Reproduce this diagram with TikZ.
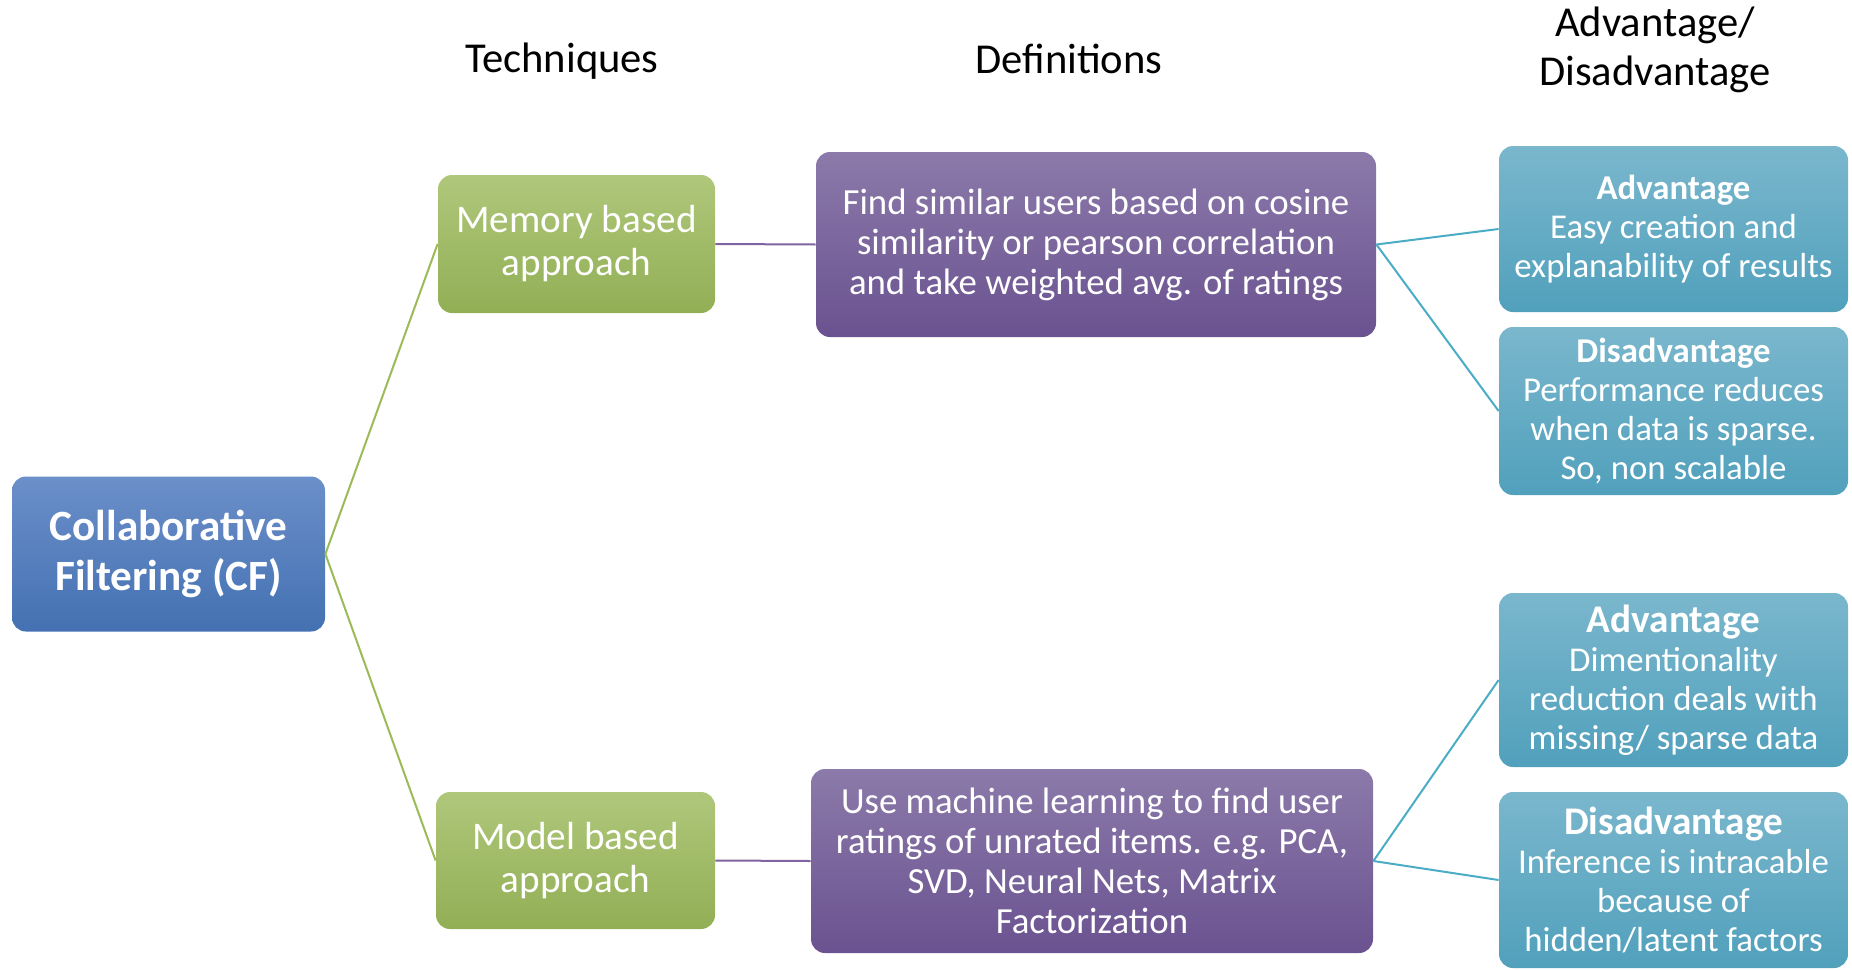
\documentclass[tikz,border=0pt]{standalone}
\usepackage{fontspec}
\setmainfont{Carlito}
\definecolor{cfTop}{HTML}{6B8FC9}
\definecolor{cfBot}{HTML}{4471B2}
\definecolor{grTop}{HTML}{AFC77B}
\definecolor{grBot}{HTML}{92AF55}
\definecolor{puTop}{HTML}{8C7AAA}
\definecolor{puBot}{HTML}{6A5290}
\definecolor{tlTop}{HTML}{7AB7CD}
\definecolor{tlBot}{HTML}{51A0BC}
\definecolor{grLine}{HTML}{9BBB59}
\definecolor{puLine}{HTML}{8064A2}
\definecolor{tlLine}{HTML}{4BACC6}
\tikzset{
  box/.style={rounded corners=7pt, text=white, align=center, inner sep=0pt},
  cfbox/.style={box, top color=cfTop, bottom color=cfBot, font=\fontsize{21.6}{24.8}\selectfont\bfseries},
  techbox/.style={box, top color=grTop, bottom color=grBot, font=\fontsize{19.6}{21.5}\selectfont},
  defbox/.style={box, top color=puTop, bottom color=puBot, font=\fontsize{18.4}{20}\selectfont},
  probox/.style={box, top color=tlTop, bottom color=tlBot, font=\fontsize{17.4}{19.5}\selectfont},
  header/.style={font=\fontsize{21.3}{24.5}\selectfont, align=center},
  link/.style={line width=1pt}
}
\begin{document}
\begin{tikzpicture}[x=0.5pt, y=-0.5pt]
    \useasboundingbox (0,0) rectangle (1852,969);

    % Column headers
    \node[header] (hTech) at (562,61) {Techniques};
    \node[header] (hDef) at (1069,59) {Definitions};
    \node[header] (hPro) at (1655,50) {Advantage/\\Disadvantage};

    % Root
    \node[cfbox, minimum width=156.5pt, minimum height=77.5pt] (cf) at (168.5,554) {Collaborative\\Filtering (CF)};

    % Techniques
    \node[techbox, minimum width=138.5pt, minimum height=69pt] (mem) at (576.5,244) {Memory based\\approach};
    \node[techbox, minimum width=139.5pt, minimum height=68.5pt] (mod) at (575.5,860.5) {Model based\\approach};

    % Definitions
    \node[defbox, minimum width=280pt, minimum height=92.5pt] (memDef) at (1096,244.5)
        {Find similar users based on cosine\\similarity or pearson correlation\\and take weighted avg. of ratings};
    \node[defbox, minimum width=281pt, minimum height=92pt] (modDef) at (1092,861)
        {Use machine learning to find user\\ratings of unrated items. e.g. PCA,\\SVD, Neural Nets, Matrix\\Factorization};

    % Advantage / Disadvantage
    \node[probox, minimum width=174.5pt, minimum height=83pt] (memAdv) at (1673.5,229)
        {\textbf{Advantage}\\Easy creation and\\explanability of results};
    \node[probox, minimum width=174.5pt, minimum height=84pt] (memDis) at (1673.5,411)
        {\textbf{Disadvantage}\\Performance reduces\\when data is sparse.\\So, non scalable};
    \node[probox, minimum width=174.5pt, minimum height=87pt] (modAdv) at (1673.5,680)
        {{\fontsize{19.6}{19.5}\selectfont\textbf{Advantage}}\\Dimentionality\\reduction deals with\\missing/ sparse data};
    \node[probox, minimum width=174.5pt, minimum height=88pt] (modDis) at (1673.5,880)
        {{\fontsize{19.6}{19.5}\selectfont\textbf{Disadvantage}}\\Inference is intracable\\because of\\hidden/latent factors};

    % Connections
    \draw[link, grLine] (cf.east) -- (mem.west);
    \draw[link, grLine] (cf.east) -- (mod.west);
    \draw[link, puLine] (mem.east) -- (memDef.west);
    \draw[link, puLine] (mod.east) -- (modDef.west);
    \draw[link, tlLine] (memDef.east) -- (memAdv.west);
    \draw[link, tlLine] (memDef.east) -- (memDis.west);
    \draw[link, tlLine] (modDef.east) -- (modAdv.west);
    \draw[link, tlLine] (modDef.east) -- (modDis.west);
\end{tikzpicture}
\end{document}
